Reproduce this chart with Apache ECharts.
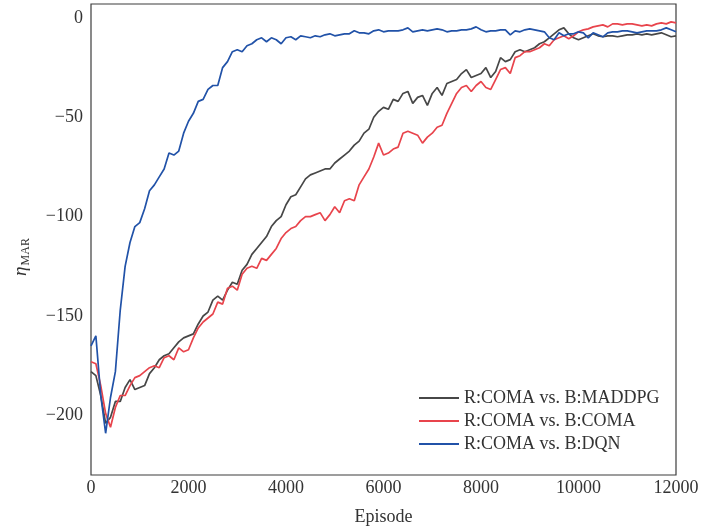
<!DOCTYPE html>
<html>
<head>
<meta charset="utf-8">
<script src="https://cdn.jsdelivr.net/npm/echarts@6/dist/echarts.min.js"></script>
<style>html,body{margin:0;padding:0;background:#fff}#chart{width:705px;height:531px}</style>
</head>
<body>
<div id="chart"></div>
<script>
// Episodes sampled every 100
const episodes = [];
for (let e = 0; e <= 12000; e += 100) episodes.push(e);

const seriesNames = ['R:COMA vs. B:MADDPG', 'R:COMA vs. B:COMA', 'R:COMA vs. B:DQN'];

const maddpg = [
 -178,-180,-190,-204,-201,-193,-193,-186,-182,-187,
 -186,-185,-179,-176,-172,-170,-169,-166,-163,-161,
 -160,-159,-154,-150,-148,-142,-140,-142,-137,-133,
 -134,-127,-124,-119,-116,-113,-110,-105,-102,-100,
 -94,-90,-89,-85,-81,-79,-78,-77,-76,-76,
 -73,-71,-69,-67,-64,-62,-58,-56,-50,-47,
 -45,-46,-41,-42,-38,-37,-43,-40,-39,-44,
 -38,-35,-39,-33,-32,-31,-28,-26,-30,-29,
 -28,-25,-30,-27,-20,-22,-21,-17,-16,-17,
 -16,-15,-13,-12,-10,-8,-6,-5,-8,-10,
 -11,-10,-9,-8,-9,-9.5,-9,-9,-9.5,-9,
 -8.5,-8.5,-8,-8.5,-8,-8.5,-8,-7.5,-8.5,-9.5,
 -9
];

const coma = [
 -173,-174,-185,-199,-206,-196,-190,-190,-185,-181,
 -180,-178,-176,-175,-176,-171,-170,-172,-166,-168,
 -167,-161,-156,-153,-151,-149,-143,-144,-136,-135,
 -137,-129,-126,-125,-126,-121,-122,-119,-116,-111,
 -108,-106,-105,-102,-100,-100,-99,-98,-102,-99,
 -95,-98,-92,-91,-92,-84,-80,-76,-70,-63,
 -69,-68,-66,-65,-58,-57,-58,-59,-63,-60,
 -58,-55,-54,-48,-43,-38,-35,-34,-37,-34,
 -32,-35,-36,-31,-26,-25,-28,-20,-19,-17,
 -17,-16,-15,-13,-14,-11,-10,-9,-10.5,-9,
 -7,-6,-5.5,-4.5,-4,-3.5,-4.5,-3,-3,-3.5,
 -3,-3,-3.5,-4,-3.5,-4,-3,-2.5,-3,-2,
 -2.5
];

const dqn = [
 -165,-160,-190,-209,-191,-178,-147,-125,-113,-105,
 -103,-96,-87,-84,-80,-76,-68,-69,-67,-58,
 -52,-48,-42,-41,-36,-34,-34,-25,-22,-17,
 -16,-17,-14,-13,-11,-10,-12,-10,-11,-13,
 -10,-9.5,-11,-9,-9.5,-10,-9,-9.5,-8.5,-8,
 -9,-8.5,-8,-8,-6.5,-7.5,-7.5,-8,-6.5,-6,
 -7,-6.5,-6.5,-6.5,-6,-5,-7,-6.5,-6,-6.5,
 -6,-5.5,-6,-7,-6.5,-6.5,-6,-6,-5.5,-4.5,
 -6,-7,-6.5,-6.5,-6,-6,-8.5,-6.5,-7,-6,
 -5.5,-6,-6.5,-7,-10,-11,-7.5,-9,-8,-8,
 -7,-7.5,-10,-7.5,-8.5,-9.5,-7.5,-7,-7,-6.5,
 -6.5,-7,-7.5,-7,-6.5,-6.5,-6.5,-6,-5,-6,
 -7
];

const yTicks = [0, -50, -100, -150, -200];
const xTicks = [0, 2000, 4000, 6000, 8000, 10000, 12000];

const colors = ['#474747', '#e8444c', '#2152a8'];
const FONT = 'Liberation Serif';

const mk = arr => episodes.map((e, i) => [e, arr[i]]);
const allValues = [maddpg, coma, dqn];

const chart = echarts.init(document.getElementById('chart'), null, {renderer: 'canvas'});
chart.setOption({
  animation: false,
  backgroundColor: '#fff',
  grid: {left: 91, right: 29, top: 4, bottom: 54, show: true, borderColor: '#3c3c3c', borderWidth: 1.2, containLabel: false},
  legend: {
    orient: 'vertical', left: 414, top: 384, itemGap: 5,
    itemWidth: 40, itemHeight: 2, icon: 'rect',
    data: seriesNames,
    textStyle: {fontFamily: FONT, fontSize: 18, color: '#333', lineHeight: 18}
  },
  graphic: [{
    type: 'text', x: 21, y: 257, rotation: Math.PI / 2,
    style: {
      text: '{i|η}{s|MAR}', align: 'center', verticalAlign: 'middle',
      fill: '#333',
      rich: {
        i: {fontFamily: FONT, fontStyle: 'italic', fontSize: 19, fill: '#333'},
        s: {fontFamily: FONT, fontSize: 12, fill: '#333', padding: [10, 0, 0, 1]}
      }
    }
  }],
  xAxis: {
    type: 'value', min: 0, max: 12000, interval: 2000,
    name: 'Episode', nameLocation: 'middle', nameGap: 33,
    nameTextStyle: {fontFamily: FONT, fontSize: 18, color: '#333'},
    axisLine: {show: false}, axisTick: {show: false}, splitLine: {show: false},
    axisLabel: {fontFamily: FONT, fontSize: 18, color: '#333', margin: 4,
      customValues: xTicks, formatter: v => String(v)}
  },
  yAxis: {
    type: 'value', min: -230, max: 7,
    axisLine: {show: false}, axisTick: {show: false}, splitLine: {show: false},
    axisLabel: {fontFamily: FONT, fontSize: 18, color: '#333', margin: 8,
      customValues: yTicks, formatter: v => String(v).replace('-', '\u2212')}
  },
  series: seriesNames.map((n, k) => ({
    name: n, type: 'line', data: mk(allValues[k]),
    showSymbol: false, symbol: 'none',
    lineStyle: {color: colors[k], width: 1.7},
    itemStyle: {color: colors[k]}
  }))
});
</script>
</body>
</html>
